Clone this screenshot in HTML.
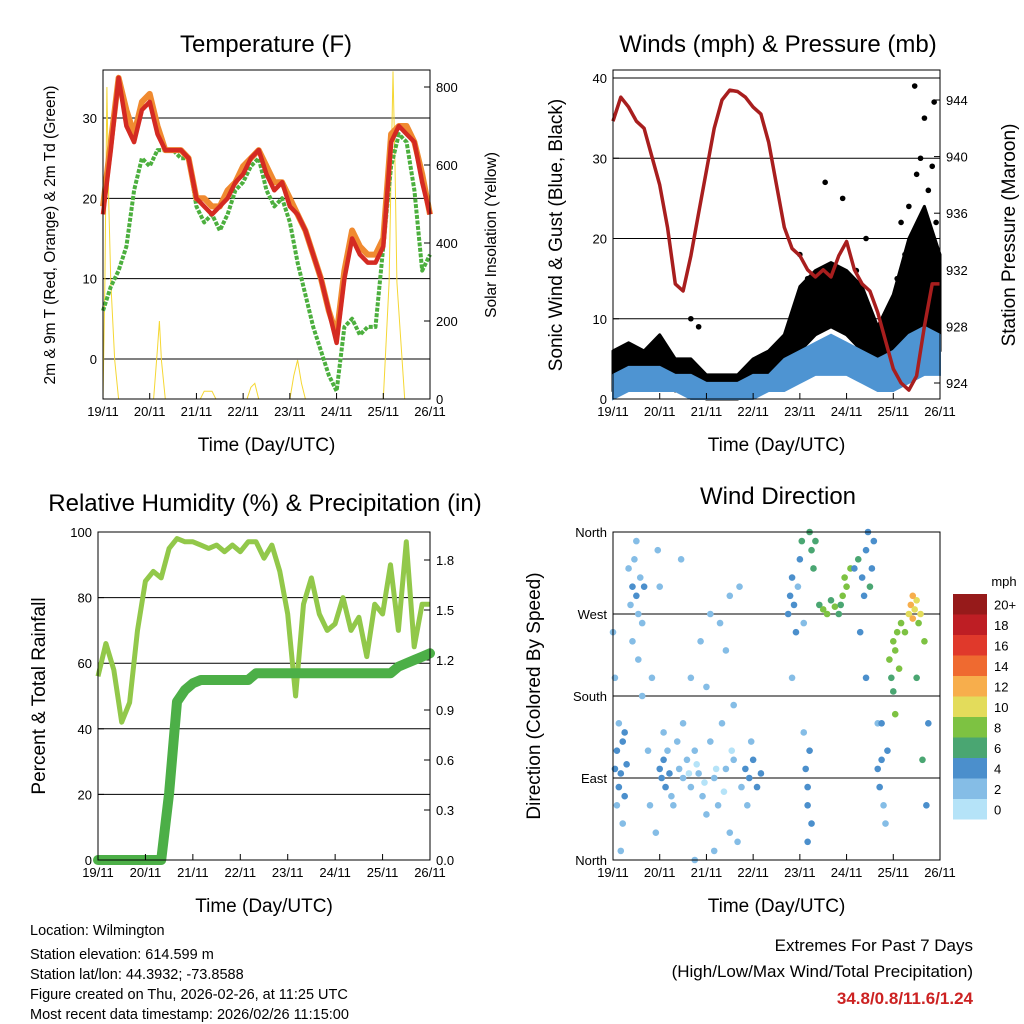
<!DOCTYPE html>
<html><head><meta charset="utf-8"><style>
html,body{margin:0;padding:0;background:#fff;}
svg{display:block;font-family:"Liberation Sans",Arial,sans-serif;}
</style></head><body>
<svg id="root" width="1024" height="1024" viewBox="0 0 1024 1024">
<rect width="1024" height="1024" fill="#fff"/>
<g id="p1"></g>
<g id="p2"></g>
<g id="p3"></g>
<g id="p4"></g>
<g font-size="14.5" fill="#000">
<text x="30" y="935">Location: Wilmington</text>
<text x="30" y="959">Station elevation: 614.599 m</text>
<text x="30" y="979">Station lat/lon: 44.3932; -73.8588</text>
<text x="30" y="999">Figure created on Thu, 2026-02-26, at 11:25 UTC</text>
<text x="30" y="1019">Most recent data timestamp: 2026/02/26 11:15:00</text>
</g>
<g text-anchor="end">
<text x="973" y="951" font-size="17">Extremes For Past 7 Days</text>
<text x="973" y="977" font-size="17">(High/Low/Max Wind/Total Precipitation)</text>
<text x="973" y="1004" font-size="17" font-weight="bold" fill="#cc2222">34.8/0.8/11.6/1.24</text>
</g>
</svg>
<script>
// ---------- data ----------
const dayLabels=["19/11","20/11","21/11","22/11","23/11","24/11","25/11","26/11"];
const hours4=[0,4,8,12,16,20,24,28,32,36,40,44,48,52,56,60,64,68,72,76,80,84,88,92,96,100,104,108,112,116,120,124,128,132,136,140,144,148,152,156,160,164,168];
const tempRed=[18,26,35,29,27,31,32,28,26,26,26,25,20,19,18,19,20,22,23,25,26,23,21,22,19,18,16,13,10,6,2,10,15,13,12,12,14,27,29,28,27,22,18];
const tempOrange=[19,27,35,31,28,32,33,29,26,26,26,25,20,20,19,19,21,22,24,25,26,24,22,22,20,18,16,13,10,6,3,11,16,14,13,13,15,28,29,29,27,23,18];
const dewGreen=[6,9,11,14,21,25,24,26,26,26,25,25,19,17,18,16,18,21,22,24,25,21,19,20,17,12,8,4,1,-2,-4,4,5,3,4,4,14,24,28,27,21,11,13];
const solarHours=[0,1,2,3,4,6,8,26,28,29,30,32,50,52,56,58,74,76,78,80,96,98,100,102,104,144,147,149,150,151,153,155,168];
const solarVals=[0,300,800,500,300,100,0,0,130,200,100,0,0,20,20,0,0,30,40,0,0,60,100,40,0,0,300,840,600,300,150,0,0];
const pressure=[942.5,944.2,943.5,942.5,942,940,938,935,931,930.5,933,936,939,942,944,944.7,944.6,944.2,943.5,943,941,938,935,933.5,933,932,931.5,932,931.5,933,934,932,931,930.5,929,927,925,924,923.5,924.5,928,931,931];
const hours8=[0,8,16,24,32,40,48,56,64,72,80,88,96,104,112,120,128,136,144,152,160,168];
const windHigh=[3,4,4,4,3,3,2,2,2,3,3,5,6,7,8,7,6,5,6,8,9,8];
const windLow=[0,1,1,1,1,0,0,0,0,0,1,1,2,3,3,3,2,1,1,2,3,3];
const gustHigh=[6,7,6,8,5,5,3,3,3,5,6,8,14,16,17,16,14,9,13,20,24,18];
const gustLow=[1,2,2,2,1,1,0,0,0,1,2,2,6,8,9,8,6,3,4,6,8,6];
const gustDotHours=[40,44,96,100,109,118,125,130,146,148,150,152,154,155,156,158,160,162,164,165,166];
const gustDotVals=[10,9,18,15,27,25,16,20,15,22,18,24,20,39,28,30,35,26,29,37,22];
const rh=[56,66,58,42,48,70,85,88,86,95,98,97,97,96,95,96,94,96,94,97,97,92,96,88,75,50,78,86,75,70,72,80,70,74,62,78,75,90,70,97,65,78,78];
const precip=[0,0,0,0,0,0,0,0,0,0.4,0.95,1.02,1.06,1.08,1.08,1.08,1.08,1.08,1.08,1.08,1.12,1.12,1.12,1.12,1.12,1.12,1.12,1.12,1.12,1.12,1.12,1.12,1.12,1.12,1.12,1.12,1.12,1.12,1.16,1.18,1.2,1.22,1.24];
const dirPts=[[1,100,3],[2,120,4],[3,80,3],[4,95,4],[5,130,3],[2,60,2],[6,140,3],[3,150,2],[1,200,2],[5,40,2],[4,10,2],[0,250,1],[7,105,4],[6,70,3],
[9,280,2],[10,300,3],[12,290,3],[13,270,2],[14,310,2],[11,330,2],[15,260,2],[12,350,1],[10,240,2],[16,300,3],[8,320,2],[13,220,1],[15,180,2],
[18,120,2],[19,60,1],[20,200,1],[22,30,1],[23,340,2],[24,300,2],
[24,100,3],[25,90,4],[26,110,3],[27,80,3],[28,120,2],[29,95,3],[30,70,2],[26,140,2],[31,60,2],[33,130,2],
[34,100,1],[36,90,1],[38,110,1],[40,80,1],[42,120,1],[44,95,1],[46,70,1],[48,50,1],[50,130,1],[52,90,1],[54,60,1],[56,150,1],[58,100,1],[60,30,1],[62,110,1],[64,20,1],[66,80,1],[40,200,1],[45,240,1],[50,270,1],[55,260,1],[60,290,1],[65,300,1],[58,230,1],[35,330,1],[42,0,1],[52,10,1],[62,170,1],[36,150,1],[48,190,1],[39,95,0],[43,105,0],[47,85,0],[53,100,0],[57,75,0],[61,120,0],
[68,100,3],[70,90,3],[72,110,4],[74,80,3],[76,95,3],[71,130,2],[69,60,2],
[90,270,3],[91,290,4],[92,310,3],[93,280,4],[94,250,3],[95,300,2],[96,330,3],[97,350,5],[98,260,2],[92,200,2],
[99,100,4],[100,80,4],[101,120,4],[100,60,3],[102,40,3],[98,140,2],[100,20,3],
[101,360,6],[102,340,6],[103,320,5],[104,350,6],
[106,280,6],[108,275,7],[110,270,7],[112,285,6],[114,278,7],[116,270,6],[118,290,7],[120,300,8],[122,320,8],[119,310,8],[117,280,5],
[124,320,4],[126,330,5],[128,310,4],[130,340,4],[132,300,5],[134,350,4],[129,290,3],[133,320,4],[131,360,4],
[127,250,3],[130,200,3],[136,150,2],
[136,100,3],[137,80,3],[138,110,3],[139,60,2],[140,40,2],[138,150,3],[141,120,4],
[142,220,7],[143,200,6],[144,240,7],[145,230,7],[146,250,8],[147,210,7],[148,260,8],[144,185,6],[145,160,7],[150,250,8],
[152,270,10],[153,280,11],[154,265,12],[155,275,10],[156,285,9],[157,260,8],[154,290,11],[158,270,9],[160,240,7],[156,200,6],[159,110,5],[161,60,4],[162,150,4]];
const speedColors=["#b5e3f8","#85bde6","#4b8fcc","#4aa672","#7dc242","#e3dc5b","#f7ae4c","#ef6a30","#e0392b","#be1e24","#961a1a"];
const speedLabels=["0","2","4","6","8","10","12","14","16","18","20+"];

// ---------- helpers ----------
const NS="http://www.w3.org/2000/svg";
function mk(parent,tag,attrs){const e=document.createElementNS(NS,tag);for(const k in attrs)e.setAttribute(k,attrs[k]);parent.appendChild(e);return e;}
function txt(parent,x,y,s,size,anchor,extra){const t=mk(parent,"text",Object.assign({x:x,y:y,"font-size":size,"text-anchor":anchor||"middle"},extra||{}));t.textContent=s;return t;}
function lin(d0,d1,r0,r1){return v=>r0+(v-d0)*(r1-r0)/(d1-d0);}
function pathOf(xs,ys){return xs.map((x,i)=>(i?"L":"M")+x.toFixed(1)+","+ys[i].toFixed(1)).join("");}

function frame(g,L,T,R,B,xs){
  let r=mk(g,"rect",{x:L,y:T,width:R-L,height:B-T,fill:"none",stroke:"#000","stroke-width":1});
  
  
  dayLabels.forEach((d,i)=>{const x=xs(i*24);
    let tk=mk(g,"line",{x1:x,x2:x,y1:B,y2:B-6,stroke:"#000"});
    
    
    let t=txt(g,x,B+17,d,13);
    
    
  });
  let xl=txt(g,(L+R)/2,B+52,"Time (Day/UTC)",19);
  
  
}
function hgrid(g,L,R,y){let l=mk(g,"line",{x1:L,x2:R,y1:y,y2:y,stroke:"#000","stroke-width":1});}
function ytick(g,x,y,s,side){let l=mk(g,"line",{x1:x,x2:x+(side<0?6:-6),y1:y,y2:y,stroke:"#000"});
  let t=txt(g,side<0?x-6:x+6,y+5,s,13,side<0?"end":"start");}
function title(g,x,y,s){let t=txt(g,x,y,s,24);}
function vlabel(g,x,y,s,size){let t=txt(g,x,y,s,size,"middle",{transform:`rotate(-90 ${x} ${y})`});}

// ---------- Panel 1: Temperature ----------
(function(){
const g=document.getElementById("p1");const L=103,R=430,T=70,B=399;
const X=lin(0,168,L,R),Y=lin(0,30,359,118),Ys=lin(0,800,399,87);
[0,10,20,30].forEach(v=>{hgrid(g,L,R,Y(v));ytick(g,L,Y(v),String(v),-1);});
[0,200,400,600,800].forEach(v=>ytick(g,R,Ys(v),String(v),1));
let s=mk(g,"path",{d:pathOf(solarHours.map(X),solarVals.map(v=>Math.max(T,Ys(v)))),fill:"none",stroke:"#f5d733","stroke-width":1});

let gr=mk(g,"path",{d:pathOf(hours4.map(X),dewGreen.map(Y)),fill:"none",stroke:"#4caf3e","stroke-width":4,"stroke-dasharray":"4 1.5","stroke-linejoin":"round"});

let o=mk(g,"path",{d:pathOf(hours4.map(X),tempOrange.map(Y)),fill:"none",stroke:"#f08a30","stroke-width":6,"stroke-linejoin":"round"});

let r=mk(g,"path",{d:pathOf(hours4.map(X),tempRed.map(Y)),fill:"none",stroke:"#d42a22","stroke-width":4.5,"stroke-linejoin":"round"});

frame(g,L,T,R,B,X);
title(g,266,52,"Temperature (F)");
vlabel(g,55,235,"2m & 9m T (Red, Orange) & 2m Td (Green)",15.5);
vlabel(g,496,235,"Solar Insolation (Yellow)",15.5);
})();

// ---------- Panel 2: Winds ----------
(function(){
const g=document.getElementById("p2");const L=613,R=940,T=70,B=399;
const X=lin(0,168,L,R),Y=lin(0,40,399,78),Yp=lin(924,944,383,100);
[0,10,20,30,40].forEach(v=>{hgrid(g,L,R,Y(v));ytick(g,L,Y(v),String(v),-1);});
[924,928,932,936,940,944].forEach(v=>ytick(g,R,Yp(v),String(v),1));
const gx=hours8.map(X);
let gb=mk(g,"path",{d:pathOf(gx,gustHigh.map(Y))+pathOf(gx.slice().reverse(),gustLow.map(Y).reverse()).replace("M","L")+"Z",fill:"#000",stroke:"#000","stroke-width":3,"stroke-linejoin":"round"});

gustDotHours.forEach((h,i)=>{let c=mk(g,"circle",{cx:X(h),cy:Y(gustDotVals[i]),r:2.8,fill:"#000"});
  });
let wb=mk(g,"path",{d:pathOf(gx,windHigh.map(Y))+pathOf(gx.slice().reverse(),windLow.map(Y).reverse()).replace("M","L")+"Z",fill:"#4e94d2",stroke:"#4e94d2","stroke-width":2});

let p=mk(g,"path",{d:pathOf(hours4.map(X),pressure.map(Yp)),fill:"none",stroke:"#a81e1e","stroke-width":3.5,"stroke-linejoin":"round"});

frame(g,L,T,R,B,X);
title(g,778,52,"Winds (mph) & Pressure (mb)");
vlabel(g,562,235,"Sonic Wind & Gust (Blue, Black)",19);
vlabel(g,1015,235,"Station Pressure (Maroon)",19);
})();

// ---------- Panel 3: RH & Precip ----------
(function(){
const g=document.getElementById("p3");const L=98,R=430,T=532,B=860;
const X=lin(0,168,L,R),Y=lin(0,100,860,532),Yr=lin(0,1.8,860,560);
[0,20,40,60,80,100].forEach(v=>{hgrid(g,L,R,Y(v));ytick(g,L,Y(v),String(v),-1);});
[0,0.3,0.6,0.9,1.2,1.5,1.8].forEach(v=>ytick(g,R,Yr(v),v.toFixed(1),1));
let a=mk(g,"path",{d:pathOf(hours4.map(X),rh.map(Y)),fill:"none",stroke:"#92c84a","stroke-width":5,"stroke-linejoin":"round"});

let b=mk(g,"path",{d:pathOf(hours4.map(X),precip.map(Yr)),fill:"none",stroke:"#4caf47","stroke-width":10,"stroke-linejoin":"round","stroke-linecap":"round"});

frame(g,L,T,R,B,X);
title(g,265,511,"Relative Humidity (%) & Precipitation (in)");
vlabel(g,45,696,"Percent & Total Rainfall",19);
})();

// ---------- Panel 4: Wind Direction ----------
(function(){
const g=document.getElementById("p4");const L=613,R=940,T=532,B=860;
const X=lin(0,168,L,R),Y=lin(0,360,860,532);
const dirNames=["North","East","South","West","North"];
[0,90,180,270,360].forEach((v,i)=>{hgrid(g,L,R,Y(v));ytick(g,L,Y(v),dirNames[i],-1);});
dirPts.forEach(p=>{const idx=Math.min(10,Math.round(p[2]/2));
  let c=mk(g,"circle",{cx:X(p[0]),cy:Y(p[1]),r:3.3,fill:speedColors[idx]});
  });
frame(g,L,T,R,B,X);
title(g,778,504,"Wind Direction");
vlabel(g,540,696,"Direction (Colored By Speed)",19);
const cb=mk(g,"g",{});

const h=20.5,top=594;
speedColors.forEach((c,i)=>{const y=top+(10-i)*h;
  let r=mk(cb,"rect",{x:953,y:y,width:34,height:h,fill:c});
  
  let t=txt(cb,994,y+h/2+5,speedLabels[i],13,"start");
  });
let u=txt(cb,1004,586,"mph",13);

})();
</script>
</body></html>
